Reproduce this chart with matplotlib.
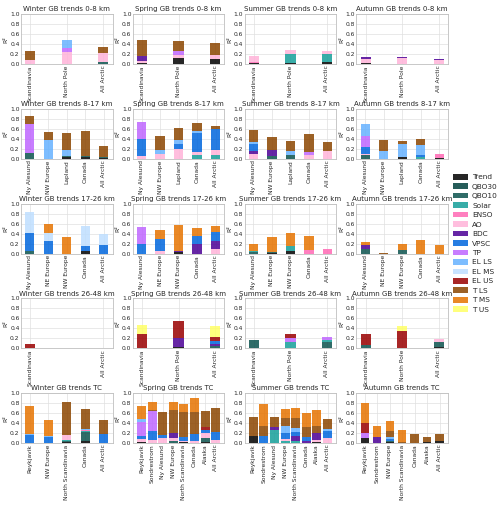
import numpy as np
import matplotlib
matplotlib.use("Agg")
import matplotlib.pyplot as plt
from matplotlib.patches import Patch

# predictors, in stacking order (bottom -> top)
predictors = ['Trend', 'QBO30', 'QBO10', 'Solar', 'ENSO', 'AO', 'BDC', 'VPSC',
              'TP', 'EL LS', 'EL MS', 'EL US', 'T LS', 'T MS', 'T US']
colors = ['#000000', '#00403d', '#0b524e', '#159f99', '#ff69b4', '#ffb3d9',
          '#4b0096', '#0066dd', '#bf66ff', '#66b2ff', '#bfdfff', '#990000',
          '#8b4500', '#e67300', '#ffff66']

seasons = ['Winter', 'Spring', 'Summer', 'Autumn']
layers = ['0-8 km', '8-17 km', '17-26 km', '26-48 km', 'TC']

# ---- 0-8 km ----
sites_08 = ['Scandinavia', 'North Pole', 'All Arctic']
winter_08 = {'QBO10': [0, 0, 0.05], 'ENSO': [0.01, 0, 0], 'AO': [0.07, 0.25, 0.18],
             'TP': [0, 0.07, 0], 'EL LS': [0, 0.16, 0], 'T LS': [0.19, 0, 0.11]}
spring_08 = {'Trend': [0.02, 0.12, 0.10], 'AO': [0.04, 0.07, 0.09], 'BDC': [0.10, 0, 0],
             'TP': [0, 0.07, 0], 'T LS': [0.33, 0.20, 0.24]}
summer_08 = {'Trend': [0.03, 0.03, 0.05], 'Solar': [0, 0.18, 0.16], 'ENSO': [0.02, 0, 0],
             'AO': [0.12, 0.07, 0.06]}
autumn_08 = {'Trend': [0.02, 0, 0], 'AO': [0.08, 0.12, 0.08], 'BDC': [0.04, 0.03, 0.03]}

# ---- 8-17 km ----
sites_817 = ['Ny Alesund', 'NW Europe', 'Lapland', 'Canada', 'All Arctic']
winter_817 = {'Trend': [0, 0, 0.03, 0.03, 0.02], 'QBO10': [0.12, 0, 0.02, 0.02, 0.01],
              'TP': [0.57, 0, 0, 0, 0], 'EL LS': [0, 0.37, 0.12, 0, 0],
              'T LS': [0.17, 0.16, 0.35, 0.50, 0.23]}
spring_817 = {'Solar': [0, 0, 0, 0.08, 0.08], 'AO': [0.06, 0.10, 0.19, 0.06, 0.09],
              'VPSC': [0.33, 0, 0.11, 0.37, 0.42], 'TP': [0.34, 0, 0, 0, 0],
              'EL LS': [0, 0.07, 0.08, 0.04, 0], 'T LS': [0, 0.28, 0.23, 0.16, 0.06]}
summer_817 = {'QBO10': [0, 0.05, 0.07, 0, 0], 'AO': [0.10, 0, 0, 0.08, 0.15],
              'BDC': [0.06, 0.13, 0, 0, 0], 'VPSC': [0.14, 0, 0, 0, 0],
              'TP': [0, 0, 0, 0.05, 0], 'EL LS': [0.04, 0, 0.08, 0, 0],
              'T LS': [0.24, 0.26, 0.21, 0.37, 0.19]}
autumn_817 = {'Trend': [0, 0, 0.03, 0, 0.02], 'QBO10': [0.07, 0, 0, 0, 0],
              'Solar': [0, 0, 0, 0.03, 0], 'ENSO': [0, 0, 0, 0, 0.07],
              'AO': [0.03, 0, 0, 0, 0], 'VPSC': [0.13, 0, 0, 0.04, 0],
              'TP': [0.23, 0, 0, 0, 0], 'EL LS': [0.24, 0.16, 0.26, 0.21, 0],
              'T LS': [0, 0.21, 0.07, 0.12, 0]}

# ---- 17-26 km ----
sites_1726 = ['Ny Alesund', 'NE Europe', 'NW Europe', 'Canada', 'All Arctic']
winter_1726 = {'Trend': [0, 0, 0, 0.05, 0], 'QBO10': [0.05, 0, 0, 0, 0],
               'VPSC': [0.36, 0.25, 0, 0.11, 0.18], 'EL MS': [0.42, 0.16, 0, 0.40, 0.22],
               'T MS': [0, 0.19, 0.33, 0, 0]}
spring_1726 = {'Trend': [0, 0, 0.03, 0, 0], 'AO': [0, 0.06, 0, 0, 0.09],
               'BDC': [0, 0, 0.02, 0.20, 0.17], 'VPSC': [0.19, 0.24, 0, 0.15, 0.17],
               'TP': [0.34, 0, 0, 0, 0], 'T MS': [0, 0.18, 0.52, 0.17, 0.12]}
summer_1726 = {'Trend': [0, 0.02, 0.05, 0, 0], 'QBO10': [0.04, 0.01, 0, 0, 0],
               'Solar': [0.02, 0, 0.10, 0, 0], 'ENSO': [0, 0, 0, 0.08, 0.10],
               'T MS': [0.13, 0.31, 0.27, 0.27, 0]}
autumn_1726 = {'QBO10': [0.10, 0, 0.07, 0, 0], 'BDC': [0.08, 0, 0, 0, 0],
               'T LS': [0, 0.01, 0, 0, 0], 'T MS': [0.06, 0, 0.12, 0.28, 0.17]}

# ---- 26-48 km ----
sites_2648_w = ['Scandinavia', 'All Arctic']
sites_2648 = ['Scandinavia', 'North Pole', 'All Arctic']
winter_2648 = {'Trend': [0.01, 0], 'EL MS': [0, 0.01], 'EL US': [0.07, 0]}
spring_2648 = {'Trend': [0, 0.03, 0], 'QBO10': [0, 0, 0.04], 'BDC': [0, 0.17, 0.05],
               'VPSC': [0, 0, 0.06], 'EL US': [0.29, 0.34, 0.07], 'T US': [0.18, 0, 0.23]}
summer_2648 = {'QBO10': [0.16, 0, 0.12], 'Solar': [0, 0.12, 0.04], 'TP': [0, 0.08, 0.07],
               'EL US': [0, 0.09, 0]}
autumn_2648 = {'Trend': [0, 0, 0.02], 'QBO10': [0.06, 0, 0.10], 'AO': [0, 0, 0.06],
               'EL US': [0.23, 0.35, 0], 'T US': [0, 0.09, 0]}

# ---- total column ----
sites_tc_w = ['Reykjavik', 'NW Europe', 'North Scandinavia', 'Canada', 'All Arctic']
sites_tc = ['Reykjavik', 'Sondrestrom', 'Ny Alesund', 'NW Europe',
            'North Scandinavia', 'Canada', 'Alaska', 'All Arctic']
sites_tc_a = ['Reykjavik', 'Sondrestrom', 'NW Europe', 'North Scandinavia',
              'Canada', 'Alaska', 'All Arctic']
winter_tc = {'Trend': [0, 0, 0.02, 0.05, 0.01], 'QBO10': [0, 0, 0.03, 0.18, 0],
             'Solar': [0, 0, 0.02, 0.02, 0], 'ENSO': [0, 0, 0, 0.02, 0],
             'AO': [0, 0, 0.09, 0, 0], 'VPSC': [0.17, 0.13, 0, 0, 0.18],
             'EL LS': [0.01, 0.02, 0, 0.01, 0], 'T LS': [0, 0, 0.67, 0.41, 0.28],
             'T MS': [0.57, 0.32, 0, 0, 0]}
spring_tc = {'Trend': [0.03, 0, 0, 0, 0.02, 0, 0.02, 0],
             'QBO10': [0, 0, 0, 0.05, 0, 0, 0.09, 0],
             'AO': [0.05, 0.07, 0.10, 0.06, 0.03, 0.05, 0.09, 0.07],
             'BDC': [0, 0, 0, 0.09, 0, 0, 0, 0],
             'VPSC': [0.07, 0.18, 0.07, 0, 0.07, 0.13, 0.06, 0.16],
             'TP': [0.27, 0.40, 0, 0, 0, 0, 0, 0],
             'EL LS': [0.06, 0, 0, 0, 0, 0, 0, 0],
             'EL US': [0, 0, 0, 0, 0, 0, 0.07, 0],
             'T LS': [0, 0.01, 0.45, 0.46, 0.51, 0.44, 0.32, 0.48],
             'T MS': [0.27, 0.16, 0, 0.16, 0.15, 0.28, 0, 0]}
summer_tc = {'Trend': [0.14, 0, 0, 0, 0, 0, 0.02, 0],
             'Solar': [0, 0, 0.26, 0.05, 0.04, 0, 0, 0],
             'AO': [0, 0, 0, 0.04, 0, 0, 0.05, 0.11],
             'BDC': [0, 0, 0.07, 0, 0.11, 0.04, 0.13, 0],
             'VPSC': [0, 0.14, 0, 0.12, 0.07, 0.09, 0, 0.14],
             'EL LS': [0, 0, 0, 0.13, 0.09, 0, 0, 0.03],
             'T LS': [0.39, 0.21, 0.20, 0.17, 0.19, 0.20, 0.14, 0.20],
             'T MS': [0, 0.44, 0, 0.17, 0.20, 0.28, 0.32, 0]}
autumn_tc = {'Trend': [0.10, 0, 0.03, 0, 0, 0.03, 0.05],
             'QBO10': [0, 0, 0.02, 0, 0, 0, 0],
             'BDC': [0, 0.12, 0, 0, 0, 0, 0],
             'VPSC': [0, 0, 0.04, 0, 0, 0, 0],
             'TP': [0.11, 0, 0, 0, 0, 0, 0],
             'EL LS': [0, 0, 0.04, 0, 0, 0, 0],
             'EL US': [0.19, 0, 0, 0, 0, 0, 0],
             'T LS': [0, 0, 0.12, 0.02, 0.18, 0.09, 0.14],
             'T MS': [0.41, 0.22, 0.19, 0.24, 0, 0, 0]}

panels = [
    [(sites_08, winter_08), (sites_08, spring_08), (sites_08, summer_08), (sites_08, autumn_08)],
    [(sites_817, winter_817), (sites_817, spring_817), (sites_817, summer_817), (sites_817, autumn_817)],
    [(sites_1726, winter_1726), (sites_1726, spring_1726), (sites_1726, summer_1726), (sites_1726, autumn_1726)],
    [(sites_2648_w, winter_2648), (sites_2648, spring_2648), (sites_2648, summer_2648), (sites_2648, autumn_2648)],
    [(sites_tc_w, winter_tc), (sites_tc, spring_tc), (sites_tc, summer_tc), (sites_tc_a, autumn_tc)],
]

# bar width depends on number of sites so bars look equally wide
bar_width = {2: 0.14, 3: 0.28, 5: 0.5, 7: 0.67, 8: 0.85}

plt.style.use('seaborn-v0_8-whitegrid')
plt.rcParams['font.family'] = ['DejaVu Sans']

fig, axes = plt.subplots(5, 4, figsize=(5.0, 5.07), dpi=100)
fig.subplots_adjust(left=0.042, right=0.896, top=0.972, bottom=0.126,
                    wspace=0.22, hspace=0.9)

for i, row in enumerate(panels):
    for j, (sites, data) in enumerate(row):
        ax = axes[i, j]
        x = np.arange(len(sites))
        bottom = np.zeros(len(sites))
        w = bar_width[len(sites)]
        for name, col in zip(predictors, colors):
            if name not in data:
                continue
            vals = np.array(data[name])
            ax.bar(x, vals, w, bottom=bottom, color=col, alpha=0.85, linewidth=0)
            bottom += vals
        ax.set_ylim(0, 1)
        ax.set_yticks(np.arange(0, 1.01, 0.2))
        ax.set_xticks(x)
        ax.set_xticklabels(sites, rotation=90, fontsize=4.3)
        ax.tick_params(axis='y', labelsize=4.3, pad=1)
        ax.tick_params(axis='x', pad=1)
        ax.set_ylabel('R²', fontsize=4.3, labelpad=1)
        ax.set_title('%s GB trends %s' % (seasons[j], layers[i]), fontsize=5, pad=2)
        ax.grid(True, color='0.88', linewidth=0.5)
        for s in ax.spines.values():
            s.set_color('0.75')
            s.set_linewidth(0.6)

handles = [Patch(facecolor=c, alpha=0.85, label=n) for n, c in zip(predictors, colors)]
fig.legend(handles=handles, loc='center left', bbox_to_anchor=(0.9, 0.52),
           frameon=False, fontsize=5.3, handlelength=2.0, handleheight=0.8,
           labelspacing=0.42, handletextpad=0.6, borderaxespad=0)

fig.savefig('out.png', dpi=100)
